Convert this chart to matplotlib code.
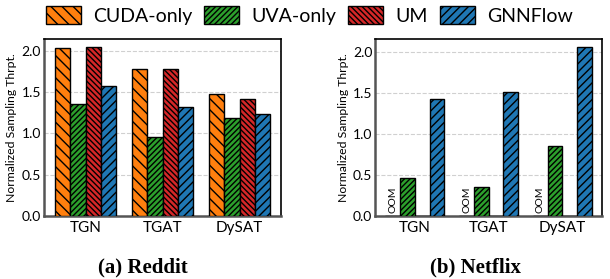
import numpy as np
import matplotlib.pyplot as plt
from matplotlib.patches import Patch

plt.rcParams['font.family'] = ['Lato', 'DejaVu Sans']
plt.rcParams['hatch.linewidth'] = 1.0

models = ['TGN', 'TGAT', 'DySAT']
methods = ['CUDA-only', 'UVA-only', 'UM', 'GNNFlow']
colors = ['#ff7f0e', '#2ca02c', '#d62728', '#1f77b4']
hatches = ['\\\\\\', '//////', '\\\\\\\\\\\\', '////']

reddit = {
    'CUDA-only': [2.03, 1.78, 1.48],
    'UVA-only': [1.35, 0.96, 1.19],
    'UM': [2.04, 1.78, 1.42],
    'GNNFlow': [1.57, 1.32, 1.24],
}
netflix = {
    'CUDA-only': [0, 0, 0],
    'UVA-only': [0.46, 0.36, 0.86],
    'UM': [0, 0, 0],
    'GNNFlow': [1.43, 1.51, 2.06],
}
netflix_oom = ['CUDA-only']

fig = plt.figure(figsize=(6.10, 2.79), dpi=100)
ax1 = fig.add_axes([0.072, 0.226, 0.389, 0.634])
ax2 = fig.add_axes([0.615, 0.226, 0.372, 0.634])

x = np.arange(len(models))
w = 0.2

for ax, data in [(ax1, reddit), (ax2, netflix)]:
    for i, m in enumerate(methods):
        pos = x + (i - 1.5) * w
        ax.bar(pos, data[m], w, color=colors[i], hatch=hatches[i],
               edgecolor='black', linewidth=1.0, zorder=3)
        if ax is ax2 and m in netflix_oom:
            for p in pos:
                ax.text(p, 0.03, 'OOM', rotation=90, ha='center', va='bottom',
                        fontsize=7.5, zorder=4)
    top = max(max(v) for v in data.values())
    ax.set_ylim(0, top * 1.05)
    ax.set_yticks([0.0, 0.5, 1.0, 1.5, 2.0])
    ax.set_xticks(x)
    ax.set_xticklabels(models, fontsize=11)
    ax.tick_params(axis='y', labelsize=10, length=0, pad=2)
    ax.tick_params(axis='x', length=0, pad=3.5)
    ax.set_ylabel('Normalized Sampling Thrpt.', fontsize=8.8, labelpad=3)
    ax.grid(axis='y', linestyle='--', color='#d0d0d0', linewidth=0.8, zorder=0)
    for s in ['top', 'right']:
        ax.spines[s].set_color('black')
        ax.spines[s].set_linewidth(1.2)
    for s in ['left', 'bottom']:
        ax.spines[s].set_color('#555555')
        ax.spines[s].set_linewidth(1.8)

handles = [Patch(facecolor=colors[i], hatch=hatches[i], edgecolor='black',
                 linewidth=1.0, label=m) for i, m in enumerate(methods)]
fig.legend(handles=handles, loc='center', bbox_to_anchor=(0.507, 0.944),
           ncol=4, frameon=False, fontsize=14, handlelength=1.8,
           handleheight=1.0, handletextpad=0.62, columnspacing=0.62,
           borderaxespad=0)

fig.text(0.234, 0.043, '(a) Reddit', ha='center', va='center', fontsize=15,
         fontweight='bold', family='Liberation Serif')
fig.text(0.779, 0.043, '(b) Netflix', ha='center', va='center', fontsize=15,
         fontweight='bold', family='Liberation Serif')

fig.savefig('out.png', dpi=100)
